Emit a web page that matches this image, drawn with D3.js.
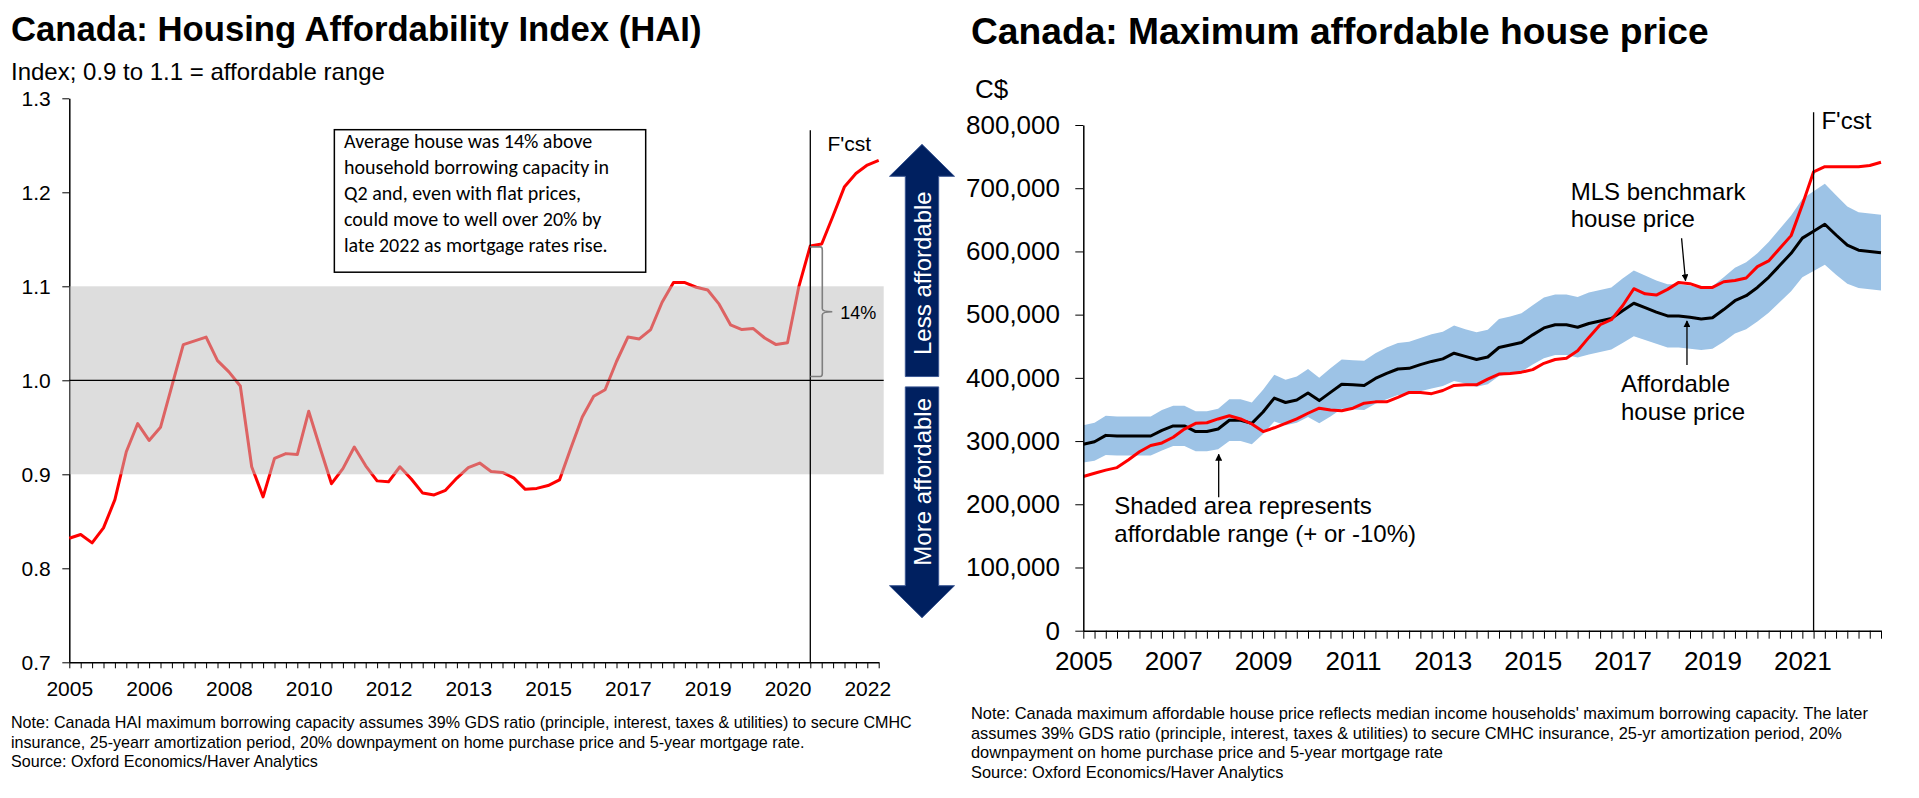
<!DOCTYPE html>
<html>
<head>
<meta charset="utf-8">
<script src="https://cdn.jsdelivr.net/npm/d3@7"></script>
<style>
  body { margin: 0; background: #fff; }
  svg { display: block; font-family: "Liberation Sans", Arial, sans-serif; }
</style>
</head>
<body>
<div id="chart"></div>
<script>
// quarterly categories, 2005Q1 .. 2022Q4
var quarters = d3.range(72).map(i => (2005 + Math.floor(i / 4)) + "Q" + (i % 4 + 1));

// Housing affordability index (left chart)
var hai = [0.832, 0.836, 0.827, 0.843, 0.873, 0.924, 0.954, 0.936, 0.950, 0.994,
           1.038, 1.042, 1.046, 1.021, 1.009, 0.994, 0.908, 0.876, 0.917, 0.922,
           0.921, 0.967, 0.928, 0.890, 0.906, 0.929, 0.909, 0.893, 0.892, 0.908,
           0.895, 0.880, 0.878, 0.883, 0.896, 0.907, 0.912, 0.903, 0.902, 0.896,
           0.884, 0.885, 0.888, 0.894, 0.928, 0.961, 0.983, 0.990, 1.020, 1.046,
           1.044, 1.054, 1.083, 1.104, 1.104, 1.099, 1.096, 1.081, 1.059, 1.054,
           1.055, 1.045, 1.038, 1.040, 1.100, 1.143, 1.145, 1.175, 1.206, 1.220,
           1.229, 1.234];
var haiTicks = [0.7, 0.8, 0.9, 1.0, 1.1, 1.2, 1.3];
var haiYearLabels = ["2005", "2006", "2008", "2010", "2012", "2013", "2015", "2017", "2019", "2020", "2022"];

// Right chart, C$ thousands
var mlsPrice = [244, 249, 254, 258, 270, 283, 293, 297, 306, 319,
                328, 329, 335, 340, 335, 327, 315, 321, 328, 335,
                344, 352, 349, 348, 352, 360, 362, 362, 369, 377,
                377, 375, 380, 388, 389, 389, 398, 406, 407, 409,
                413, 423, 429, 431, 443, 464, 484, 492, 514, 541,
                533, 531, 540, 551, 549, 543, 543, 552, 554, 558,
                576, 585, 605, 625, 674, 726, 734, 734, 734, 734,
                736, 741];
var affordPrice = [295, 299, 309, 308, 308, 308, 308, 317, 324, 324,
                   315, 315, 319, 333, 333, 328, 346, 368, 361, 365,
                   376, 364, 377, 390, 389, 388, 399, 407, 414, 415,
                   421, 426, 430, 439, 434, 429, 433, 448, 452, 456,
                   468, 479, 484, 484, 480, 486, 490, 494, 506, 518,
                   511, 504, 498, 498, 496, 493, 495, 508, 522, 530,
                   543, 559, 578, 597, 621, 632, 643, 626, 610, 602,
                   600, 598];
// affordable range (+ or -10%)
var affordHigh = [325, 329, 340, 339, 339, 339, 339, 349, 356, 356,
                  347, 347, 351, 366, 366, 361, 381, 405, 397, 402,
                  414, 400, 415, 429, 428, 427, 439, 448, 455, 457,
                  463, 469, 473, 483, 477, 472, 476, 493, 497, 502,
                  515, 527, 532, 532, 528, 535, 539, 543, 557, 570,
                  562, 554, 548, 548, 546, 542, 545, 559, 574, 583,
                  597, 615, 636, 657, 683, 695, 707, 689, 671, 662,
                  660, 658];
var affordLow = [266, 269, 278, 277, 277, 277, 277, 285, 292, 292,
                 284, 284, 287, 300, 300, 295, 311, 331, 325, 329,
                 338, 328, 339, 351, 350, 349, 359, 366, 373, 374,
                 379, 383, 387, 395, 391, 386, 390, 403, 407, 410,
                 421, 431, 436, 436, 432, 437, 441, 445, 455, 466,
                 460, 454, 448, 448, 446, 444, 446, 457, 470, 477,
                 489, 503, 520, 537, 559, 569, 579, 563, 549, 542,
                 540, 538];
var priceTicks = [0, 100000, 200000, 300000, 400000, 500000, 600000, 700000, 800000];
var priceYearLabels = ["2005", "2007", "2009", "2011", "2013", "2015", "2017", "2019", "2021"];

var forecastStart = 65;   // 2021Q2

var svg = d3.select("#chart")
  .append("svg")
    .attr("width", 1919)
    .attr("height", 798);

// arrowhead for annotation pointers
svg.append("defs").append("marker")
    .attr("id", "head")
    .attr("viewBox", "0 0 10 10")
    .attr("refX", 9).attr("refY", 5)
    .attr("markerWidth", 7).attr("markerHeight", 7)
    .attr("markerUnits", "userSpaceOnUse")
    .attr("orient", "auto")
  .append("path")
    .attr("d", "M0,0L10,5L0,10Z")
    .attr("fill", "#000");

/////////////////////////////////////////
// LEFT: Housing Affordability Index

svg.append("text")
  .attr("x", 11).attr("y", 41)
  .style("font-size", "34.7px").style("font-weight", "bold")
  .text("Canada: Housing Affordability Index (HAI)");
svg.append("text")
  .attr("x", 11).attr("y", 80)
  .style("font-size", "24px")
  .text("Index; 0.9 to 1.1 = affordable range");

var x1 = d3.scaleLinear().domain([0, quarters.length - 1]).range([69.3, 878.7]);
var y1 = d3.scaleLinear().domain([0.7, 1.3]).range([662.3, 98.3]);

var g1 = svg.append("g");

// X axis
var xAxis1 = g1.append("g")
  .attr("transform", `translate(0, ${y1(0.7)})`)
  .call(d3.axisBottom(x1)
    .tickValues(d3.range(quarters.length))
    .tickSize(6).tickSizeOuter(0).tickPadding(12.8)
    .tickFormat(i => i % 7 === 0 ? haiYearLabels[i / 7] : ""));
xAxis1.selectAll("text").style("font-size", "21px").attr("fill", "#000");

// Y axis
var yAxis1 = g1.append("g")
  .attr("transform", `translate(${x1(0)}, 0)`)
  .call(d3.axisLeft(y1)
    .tickValues(haiTicks)
    .tickSize(7).tickSizeOuter(0).tickPadding(11.6)
    .tickFormat(d3.format(".1f")));
yAxis1.selectAll("text").style("font-size", "21px").attr("fill", "#000");
g1.selectAll(".domain").attr("stroke", "#000").attr("stroke-width", 1.5);

// Line
g1.append("path")
  .datum(hai)
  .attr("fill", "none")
  .attr("stroke", "#ff0000")
  .attr("stroke-width", 3)
  .attr("stroke-linejoin", "round")
  .attr("d", d3.line().x((d, i) => x1(i)).y(d => y1(d)));

// affordable range band, laid over the line
g1.append("rect")
  .attr("x", x1(0))
  .attr("y", y1(1.1))
  .attr("width", x1(quarters.length - 1) - x1(0) + 5)
  .attr("height", y1(0.9) - y1(1.1))
  .attr("fill", "#bdbdbd")
  .attr("fill-opacity", 0.52);

g1.append("line")
  .attr("x1", x1(0)).attr("x2", x1(quarters.length - 1) + 5)
  .attr("y1", y1(1.0)).attr("y2", y1(1.0))
  .attr("stroke", "#000").attr("stroke-width", 1.3);

// forecast divider
g1.append("line")
  .attr("x1", x1(forecastStart)).attr("x2", x1(forecastStart))
  .attr("y1", y1(1.266)).attr("y2", y1(0.7))
  .attr("stroke", "#000").attr("stroke-width", 1.3);
g1.append("text")
  .attr("x", x1(66.5)).attr("y", y1(1.244))
  .style("font-size", "21px")
  .text("F'cst");

// 14% brace
var bx = x1(forecastStart), bTop = y1(hai[forecastStart]) + 1, bBot = y1(1.004);
var bMid = (bTop + bBot) / 2, bs = bx + 12;
g1.append("path")
  .attr("d", `M${bx},${bTop} L${bs - 2},${bTop} Q${bs},${bTop} ${bs},${bTop + 3}
              L${bs},${bMid - 3} Q${bs},${bMid} ${bs + 10},${bMid}
              Q${bs},${bMid} ${bs},${bMid + 3} L${bs},${bBot - 3}
              Q${bs},${bBot} ${bs - 2},${bBot} L${bx},${bBot}`)
  .attr("fill", "none")
  .attr("stroke", "#7f7f7f")
  .attr("stroke-width", 1.6);
g1.append("text")
  .attr("x", bs + 18).attr("y", bMid + 7)
  .style("font-size", "18px")
  .text("14%");

// comment box
var boxLines = ["Average house was 14% above",
                "household borrowing capacity in",
                "Q2 and, even with flat prices,",
                "could move to well over 20% by",
                "late 2022 as mortgage rates rise."];
g1.append("rect")
  .attr("x", x1(23.25)).attr("y", y1(1.2666))
  .attr("width", x1(50.56) - x1(23.25))
  .attr("height", y1(1.115) - y1(1.2666))
  .attr("fill", "#fff")
  .attr("stroke", "#000")
  .attr("stroke-width", 1.5);
g1.append("text")
  .attr("x", x1(24.1)).attr("y", y1(1.2468))
  .style("font-family", "Carlito, Lato, sans-serif")
  .style("font-size", "20px")
  .selectAll("tspan")
  .data(boxLines)
  .join("tspan")
    .attr("x", x1(24.1))
    .attr("dy", (d, i) => i === 0 ? 0 : 26)
    .text(d => d);

// affordability arrows
var ax = x1(quarters.length - 1) + 43.3;
var navy = "#002060";
g1.append("path")
  .attr("d", `M${ax},${y1(1.251)} L${ax + 32.5},${y1(1.217)} L${ax + 16.7},${y1(1.217)}
              L${ax + 16.7},${y1(1.004)} L${ax - 16.7},${y1(1.004)} L${ax - 16.7},${y1(1.217)}
              L${ax - 32.5},${y1(1.217)} Z`)
  .attr("fill", navy).attr("stroke", "#3b5793").attr("stroke-width", 1);
g1.append("path")
  .attr("d", `M${ax},${y1(0.7474)} L${ax + 32.5},${y1(0.7815)} L${ax + 16.7},${y1(0.7815)}
              L${ax + 16.7},${y1(0.993)} L${ax - 16.7},${y1(0.993)} L${ax - 16.7},${y1(0.7815)}
              L${ax - 32.5},${y1(0.7815)} Z`)
  .attr("fill", navy).attr("stroke", "#3b5793").attr("stroke-width", 1);
g1.append("text")
  .attr("transform", `translate(${ax + 8.7}, ${y1(1.114)}) rotate(-90)`)
  .attr("text-anchor", "middle")
  .attr("fill", "#fff")
  .style("font-size", "24px")
  .text("Less affordable");
g1.append("text")
  .attr("transform", `translate(${ax + 8.7}, ${y1(0.892)}) rotate(-90)`)
  .attr("text-anchor", "middle")
  .attr("fill", "#fff")
  .style("font-size", "24px")
  .text("More affordable");

// note
var note1 = ["Note: Canada HAI maximum borrowing capacity assumes 39% GDS ratio (principle, interest, taxes & utilities) to secure CMHC",
             "insurance, 25-yearr amortization period, 20% downpayment  on home purchase price and 5-year mortgage rate.",
             "Source: Oxford Economics/Haver Analytics"];
svg.append("text")
  .attr("x", 11).attr("y", 728)
  .style("font-size", "16.1px")
  .selectAll("tspan")
  .data(note1)
  .join("tspan")
    .attr("x", 11)
    .attr("dy", (d, i) => i === 0 ? 0 : 19.5)
    .text(d => d);

/////////////////////////////////////////
// RIGHT: Maximum affordable house price

svg.append("text")
  .attr("x", 971).attr("y", 44)
  .style("font-size", "37.2px").style("font-weight", "bold")
  .text("Canada: Maximum affordable house price");
svg.append("text")
  .attr("x", 975).attr("y", 98)
  .style("font-size", "26px")
  .text("C$");

var x2 = d3.scaleLinear().domain([0, quarters.length - 1]).range([1083.3, 1881]);
var y2 = d3.scaleLinear().domain([0, 800000]).range([630.7, 125]);

var g2 = svg.append("g");

// affordable range band
g2.append("path")
  .datum(d3.range(quarters.length))
  .attr("fill", "#9dc3e6")
  .attr("d", d3.area()
    .x(i => x2(i))
    .y0(i => y2(affordLow[i] * 1000))
    .y1(i => y2(affordHigh[i] * 1000)));

// Lines
g2.append("path")
  .datum(affordPrice)
  .attr("fill", "none")
  .attr("stroke", "#000")
  .attr("stroke-width", 3)
  .attr("stroke-linejoin", "round")
  .attr("d", d3.line().x((d, i) => x2(i)).y(d => y2(d * 1000)));
g2.append("path")
  .datum(mlsPrice)
  .attr("fill", "none")
  .attr("stroke", "#ff0000")
  .attr("stroke-width", 3)
  .attr("stroke-linejoin", "round")
  .attr("d", d3.line().x((d, i) => x2(i)).y(d => y2(d * 1000)));

// X axis
var xAxis2 = g2.append("g")
  .attr("transform", `translate(0, ${y2(0)})`)
  .call(d3.axisBottom(x2)
    .tickValues(d3.range(quarters.length))
    .tickSize(8).tickSizeOuter(0).tickPadding(12.8)
    .tickFormat(i => i % 8 === 0 ? priceYearLabels[i / 8] : ""));
xAxis2.selectAll("text").style("font-size", "26px").attr("fill", "#000");

// Y axis
var yAxis2 = g2.append("g")
  .attr("transform", `translate(${x2(0)}, 0)`)
  .call(d3.axisLeft(y2)
    .tickValues(priceTicks)
    .tickSize(8).tickSizeOuter(0).tickPadding(15.3)
    .tickFormat(d3.format(",")));
yAxis2.selectAll("text").style("font-size", "26px").attr("fill", "#000");
g2.selectAll(".domain").attr("stroke", "#000").attr("stroke-width", 1.5);

// forecast divider
g2.append("line")
  .attr("x1", x2(forecastStart)).attr("x2", x2(forecastStart))
  .attr("y1", y2(820000)).attr("y2", y2(0))
  .attr("stroke", "#000").attr("stroke-width", 1.3);
g2.append("text")
  .attr("x", x2(65.7)).attr("y", y2(793400))
  .style("font-size", "24px")
  .text("F'cst");

// annotations
function label(g, xi, yv, lines) {
  g.append("text")
    .attr("x", x2(xi)).attr("y", y2(yv))
    .style("font-size", "24px")
    .selectAll("tspan")
    .data(lines)
    .join("tspan")
      .attr("x", x2(xi))
      .attr("dy", (d, i) => i === 0 ? 0 : 27.3)
      .text(d => d);
}
function pointer(g, xa, ya, xb, yb) {
  g.append("line")
    .attr("x1", x2(xa)).attr("y1", y2(ya))
    .attr("x2", x2(xb)).attr("y2", y2(yb))
    .attr("stroke", "#000").attr("stroke-width", 1.3)
    .attr("marker-end", "url(#head)");
}
label(g2, 43.38, 681500, ["MLS benchmark", "house price"]);
pointer(g2, 53.25, 620800, 53.6, 553800);
label(g2, 47.86, 377200, ["Affordable", "house price"]);
pointer(g2, 53.73, 420400, 53.73, 490000);
label(g2, 2.76, 184200, ["Shaded area represents", "affordable range (+ or -10%)"]);
pointer(g2, 12.05, 211000, 12.05, 279000);

// note
var note2 = ["Note: Canada maximum affordable house price reflects median income households' maximum borrowing capacity. The later",
             "assumes 39% GDS ratio (principle, interest, taxes & utilities) to secure CMHC insurance, 25-yr amortization period, 20%",
             "downpayment  on home purchase price and 5-year mortgage rate",
             "Source: Oxford Economics/Haver Analytics"];
svg.append("text")
  .attr("x", 971).attr("y", 719)
  .style("font-size", "16.4px")
  .selectAll("tspan")
  .data(note2)
  .join("tspan")
    .attr("x", 971)
    .attr("dy", (d, i) => i === 0 ? 0 : 19.5)
    .text(d => d);
</script>
</body>
</html>
